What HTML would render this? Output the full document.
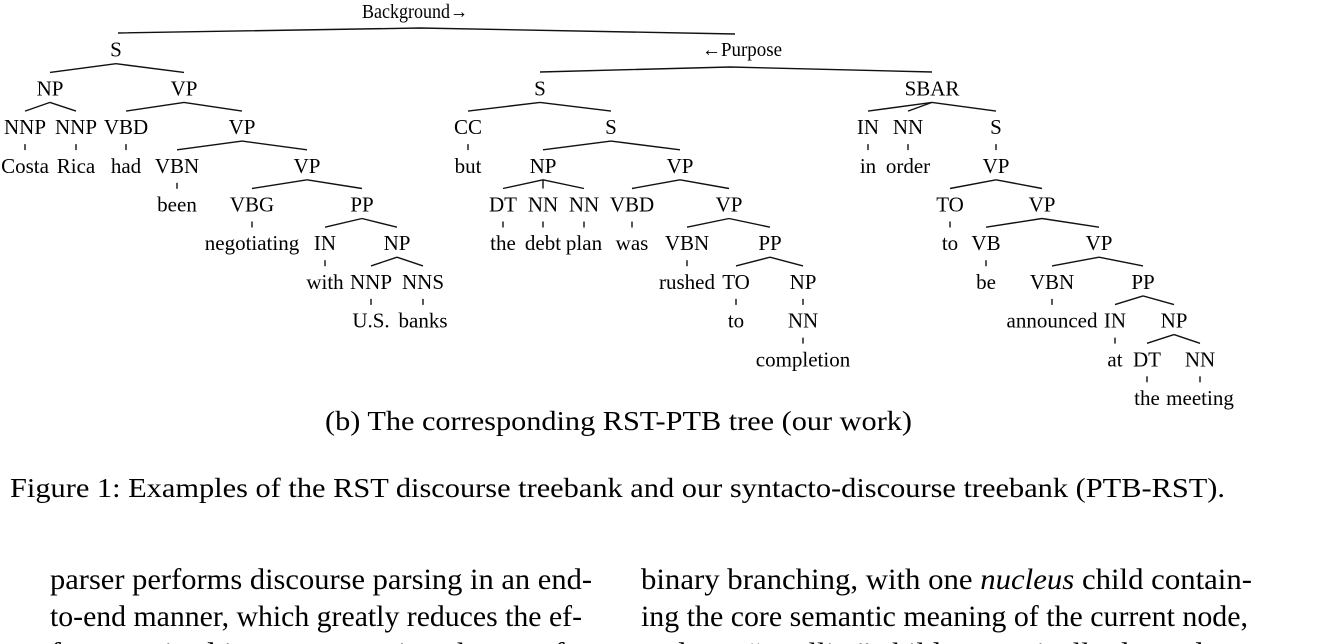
<!DOCTYPE html>
<html><head><meta charset="utf-8"><style>
html,body{margin:0;padding:0;background:#fff;width:1340px;height:644px;overflow:hidden}
svg{display:block}
text{font-family:"Liberation Serif",serif;fill:#000}
line,polyline{stroke:#111;stroke-width:1.4;fill:none}
</style></head><body>
<svg id="fig" width="1340" height="644" viewBox="0 0 1340 644" xmlns="http://www.w3.org/2000/svg">
<g id="tree"></g>
<text x="415" y="18" font-size="20" text-anchor="middle" textLength="106" lengthAdjust="spacingAndGlyphs">Background→</text>
<polyline points="118,33 420,28 735,34"/>
<text x="742" y="56" font-size="20" text-anchor="middle" textLength="80" lengthAdjust="spacingAndGlyphs">←Purpose</text>
<polyline points="540,72 730,67 932,72"/>
<text x="325" y="430" font-size="27" textLength="587" lengthAdjust="spacingAndGlyphs">(b) The corresponding RST-PTB tree (our work)</text>
<text x="10" y="497" font-size="27" textLength="1215" lengthAdjust="spacingAndGlyphs">Figure 1: Examples of the RST discourse treebank and our syntacto-discourse treebank (PTB-RST).</text>
<g font-size="30">
<text x="50" y="589" textLength="542" lengthAdjust="spacingAndGlyphs">parser performs discourse parsing in an end-</text>
<text x="50" y="626" textLength="532" lengthAdjust="spacingAndGlyphs">to-end manner, which greatly reduces the ef-</text>
<text x="50" y="663" textLength="542" lengthAdjust="spacingAndGlyphs">fort required in preprocessing the text for</text>
<text x="641" y="589" textLength="611" lengthAdjust="spacingAndGlyphs">binary branching, with one <tspan font-style="italic">nucleus</tspan> child contain-</text>
<text x="641" y="626" textLength="607" lengthAdjust="spacingAndGlyphs">ing the core semantic meaning of the current node,</text>
<text x="641" y="663" textLength="600" lengthAdjust="spacingAndGlyphs">and one “satellite” child semantically dependent</text>
</g>
</svg>
<script>
// label, x, row, parent index
const labels = ["S","NP","VP","NNP","NNP","VBD","VP","Costa","Rica","had","VBN","VP","been","VBG","PP","negotiating","IN","NP","with","NNP","NNS","U.S.","banks",
"S","CC","S","but","NP","VP","DT","NN","NN","VBD","VP","the","debt","plan","was","VBN","PP","rushed","TO","NP","to","NN","completion",
"SBAR","IN","NN","S","in","order","VP","TO","VP","to","VB","VP","be","VBN","PP","announced","IN","NP","at","DT","NN","the","meeting"];
const xs = [116,50,184,25,76,126,242,25,76,126,177,307,177,252,362,252,325,397,325,371,423,371,423,
540,468,611,468,543,680,503,543,584,632,729,503,543,584,632,687,770,687,736,803,736,803,803,
932,868,908,996,868,908,996,950,1042,950,986,1099,986,1052,1143,1052,1115,1174,1115,1147,1200,1147,1200];
const rows = [1,2,2,3,3,3,3,4,4,4,4,4,5,5,5,6,6,6,7,7,7,8,8,
2,3,3,4,4,4,5,5,5,5,5,6,6,6,6,6,6,7,7,7,8,8,9,
2,3,3,3,4,4,4,5,5,6,6,6,7,7,7,8,8,8,9,9,9,10,10];
const parents = [-1,0,0,1,1,2,2,3,4,5,6,6,10,11,11,13,14,14,16,17,17,19,20,
-1,23,23,24,25,25,27,27,27,28,28,29,30,31,32,33,33,38,39,39,41,42,44,
-1,46,46,46,47,48,49,52,52,53,54,54,56,57,57,59,60,60,62,63,63,65,66];
const g = document.getElementById('tree');
const NS = 'http://www.w3.org/2000/svg';
const rowY = r => 11 + r * 38.7;
const childCount = parents.map((_, i) => parents.filter(p => p === i).length);
labels.forEach((lab, i) => {
  const t = document.createElementNS(NS, 'text');
  t.setAttribute('x', xs[i]);
  t.setAttribute('y', rowY(rows[i]) + 7);
  t.setAttribute('font-size', '21');
  t.setAttribute('text-anchor', 'middle');
  t.textContent = lab;
  
  
  g.appendChild(t);
  const p = parents[i];
  if (p >= 0) {
    const l = document.createElementNS(NS, 'line');
    if (childCount[p] === 1) {
      l.setAttribute('x1', xs[p]); l.setAttribute('y1', rowY(rows[p]) + 17);
      l.setAttribute('x2', xs[p]); l.setAttribute('y2', rowY(rows[p]) + 23);
    } else {
      l.setAttribute('x1', xs[p]); l.setAttribute('y1', rowY(rows[p]) + 14);
      l.setAttribute('x2', xs[i]); l.setAttribute('y2', rowY(rows[i]) - 16);
    }
    
    
    g.appendChild(l);
  }
});
</script>
</body></html>
